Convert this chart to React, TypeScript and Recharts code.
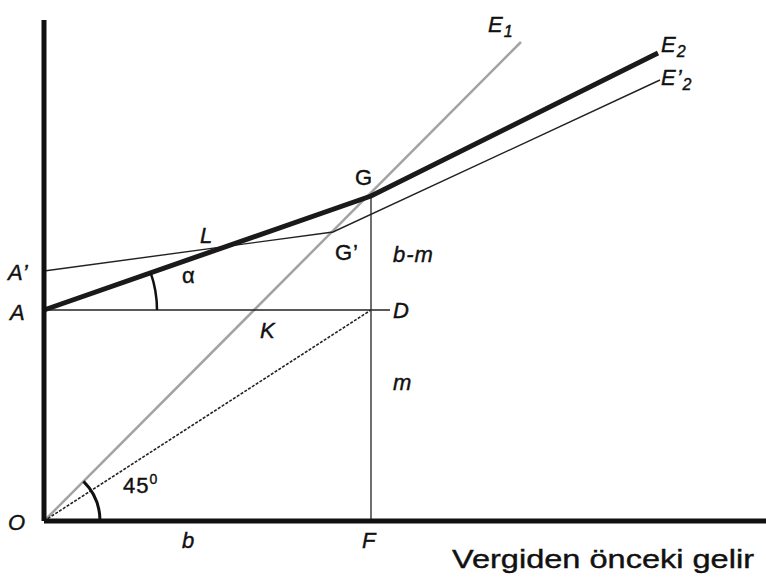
import React from 'react';
import { ComposedChart, Scatter, XAxis, YAxis, ReferenceDot } from 'recharts';

// key points of the diagram (income units)
const pO = { x: 0, y: 0 };
const pA = { x: 0, y: 211 };
const pA2 = { x: 0, y: 250 };
const pG = { x: 327, y: 325 };
const pG2 = { x: 289, y: 289 };
const pD = { x: 327, y: 211 };
const pF = { x: 327, y: 0 };

const axisYData = [pO, { x: 0, y: 501 }];
const axisXData = [pO, { x: 722, y: 0 }];
const e1Data = [pO, { x: 477, y: 479 }];
const e2Data = [pA, pG, { x: 614, y: 468 }];
const e2PrimeData = [pA2, pG2, { x: 616, y: 441 }];
const odData = [pO, pD];
const adData = [pA, { x: 346, y: 211 }];
const fgData = [pF, pG];

// text labels: main text, optional subscript / superscript
const labels = [
  { t: 'E', sub: '1', x: 444, y: 489, it: true },
  { t: 'E', sub: '2', x: 617, y: 469, it: true },
  { t: 'E’', sub: '2', x: 617, y: 436, it: true },
  { t: 'G', x: 311, y: 336 },
  { t: 'L', x: 156, y: 278, it: true },
  { t: 'G’', x: 291, y: 261 },
  { t: 'A’', x: -36, y: 241, it: true },
  { t: 'α', x: 138, y: 238 },
  { t: 'b-m', x: 349, y: 259, it: true },
  { t: 'A', x: -34, y: 201, it: true },
  { t: 'K', x: 216, y: 183, it: true },
  { t: 'D', x: 349, y: 203, it: true },
  { t: 'm', x: 349, y: 131, it: true },
  { t: '45', sup: '0', x: 79, y: 28 },
  { t: 'O', x: -36, y: -9, it: true },
  { t: 'b', x: 138, y: -27, it: true },
  { t: 'F', x: 318, y: -27, it: true },
];

const FONT = '"Liberation Sans", Arial, sans-serif';

const noDot = () => <g />;

const arcShape = (r: number, w: number, from: { x: number; y: number }, to: { x: number; y: number }) => (props: any) => {
  const { cx, cy } = props;
  const ang = Math.atan2(to.y - from.y, to.x - from.x);
  const ex = cx + r * Math.cos(ang);
  const ey = cy - r * Math.sin(ang);
  return <path d={`M${cx + r},${cy} A${r},${r} 0 0 0 ${ex},${ey}`} fill="none" stroke="#111" strokeWidth={w} />;
};

const labelShape = (l: any) => (props: any) => (
  <text
    x={props.cx}
    y={props.cy}
    fontFamily={FONT}
    fontSize={22}
    letterSpacing={1}
    fontStyle={l.it ? 'italic' : 'normal'}
    fill="#111"
    stroke="#111"
    strokeWidth={0.4}
  >
    {l.t}
    {l.sub && <tspan fontSize={16} dy={5}>{l.sub}</tspan>}
    {l.sup && <tspan fontSize={14} dy={-9}>{l.sup}</tspan>}
  </text>
);

const seg = (data: any[], stroke: string, width: number, dash?: string) => (
  <Scatter
    data={data}
    line={{ stroke, strokeWidth: width, strokeDasharray: dash }}
    lineJointType="linear"
    shape={noDot}
    isAnimationActive={false}
  />
);

export default function App() {
  return (
    <div style={{ position: 'absolute', left: 0, top: 0, width: 766, height: 579, background: '#fff' }}>
      <ComposedChart width={766} height={579} margin={{ top: 0, right: 0, bottom: 0, left: 0 }}>
        <XAxis type="number" dataKey="x" domain={[-44, 722]} hide allowDataOverflow />
        <YAxis type="number" dataKey="y" domain={[-58, 521]} hide allowDataOverflow />
        {seg(e1Data, '#a3a3a3', 2.5)}
        {seg(odData, '#222', 1.6, '3 1.5')}
        {seg(adData, '#222', 1.5)}
        {seg(fgData, '#333', 1.4)}
        {seg(e2PrimeData, '#222', 1.4)}
        {seg(e2Data, '#1a1a1a', 5)}
        {seg(axisYData, '#111', 5)}
        {seg(axisXData, '#111', 5)}
        <ReferenceDot x={pA.x} y={pA.y} r={0} ifOverflow="visible" shape={arcShape(113, 2.5, pA, pG)} />
        <ReferenceDot x={pO.x} y={pO.y} r={0} ifOverflow="visible" shape={arcShape(56, 3, pO, e1Data[1])} />
        {labels.map((l, i) => (
          <ReferenceDot key={i} x={l.x} y={l.y} r={0} ifOverflow="visible" shape={labelShape(l)} />
        ))}
        <ReferenceDot
          x={408}
          y={-47}
          r={0}
          ifOverflow="visible"
          shape={(p: any) => (
            <text
              x={p.cx}
              y={p.cy}
              fontFamily={FONT}
              fontSize={26}
              textLength={302}
              lengthAdjust="spacingAndGlyphs"
              fill="#111"
              stroke="#111"
              strokeWidth={0.4}
            >
              Vergiden önceki gelir
            </text>
          )}
        />
      </ComposedChart>
    </div>
  );
}
